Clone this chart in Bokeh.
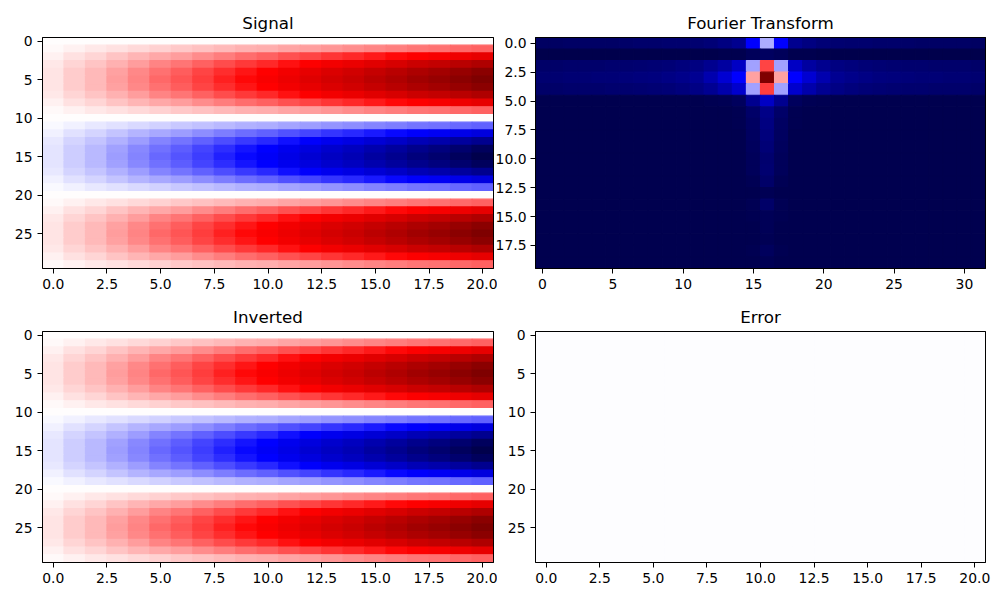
import numpy as np
from bokeh.plotting import figure
from bokeh.layouts import column, row
from bokeh.models import Range1d, FixedTicker, LinearColorMapper, ColumnDataSource, LinearAxis
from bokeh.transform import transform
from bokeh.embed import file_html
from bokeh.resources import INLINE

# ---------------- data ----------------
# Signal: value of each row (shape along the 30 rows)
signal_row_profile = [0.00, 0.31, 0.59, 0.81, 0.95, 1.00, 0.95, 0.81, 0.59, 0.31,
                      0.00, -0.31, -0.59, -0.81, -0.95, -1.00, -0.95, -0.81, -0.59, -0.31,
                      0.00, 0.31, 0.59, 0.81, 0.95, 1.00, 0.95, 0.81, 0.59, 0.31]
# Signal: amplitude of each of the 21 columns
signal_col_amp = [0.05, 0.10, 0.14, 0.19, 0.24, 0.29, 0.33, 0.38, 0.43, 0.48, 0.52,
                  0.57, 0.62, 0.67, 0.71, 0.76, 0.81, 0.86, 0.90, 0.95, 1.00]

# Fourier transform magnitude (0..1), per row, from the centre column 16 outwards
# (distance 0..16); the spectrum is symmetric around column 16.
ft_row00 = [0.42, 0.25, 0.096, 0.075, 0.061, 0.054, 0.050, 0.047, 0.045, 0.043, 0.041, 0.039, 0.038, 0.037, 0.036, 0.035, 0.034]
ft_row01 = [0.030, 0.020, 0.006, 0.004, 0.003, 0.002, 0.002, 0.001, 0.001, 0.0, 0.0, 0.0, 0.0, 0.0, 0.0, 0.0, 0.0]
ft_row02 = [0.68, 0.41, 0.17, 0.12, 0.095, 0.078, 0.068, 0.062, 0.057, 0.053, 0.050, 0.048, 0.046, 0.044, 0.043, 0.042, 0.041]
ft_row03 = [1.00, 0.59, 0.25, 0.19, 0.14, 0.10, 0.088, 0.080, 0.074, 0.069, 0.065, 0.062, 0.059, 0.057, 0.055, 0.054, 0.053]
ft_row04 = [0.69, 0.41, 0.18, 0.135, 0.10, 0.080, 0.069, 0.062, 0.057, 0.053, 0.050, 0.048, 0.046, 0.044, 0.043, 0.042, 0.041]
ft_row05 = [0.17, 0.095, 0.025, 0.012, 0.008, 0.006, 0.005, 0.004, 0.004, 0.004, 0.004, 0.004, 0.004, 0.004, 0.004, 0.004, 0.004]
ft_row06 = [0.085, 0.040, 0.010, 0.006, 0.005, 0.004, 0.004, 0.004, 0.004, 0.004, 0.004, 0.004, 0.004, 0.004, 0.004, 0.004, 0.004]
ft_row07 = [0.075, 0.033, 0.008, 0.005, 0.004, 0.004, 0.004, 0.004, 0.004, 0.004, 0.004, 0.004, 0.004, 0.004, 0.004, 0.004, 0.004]
ft_row08 = [0.068, 0.028, 0.007, 0.005, 0.004, 0.004, 0.004, 0.004, 0.004, 0.004, 0.004, 0.004, 0.004, 0.004, 0.004, 0.004, 0.004]
ft_row09 = [0.061, 0.025, 0.006, 0.004, 0.004, 0.004, 0.004, 0.004, 0.004, 0.004, 0.004, 0.004, 0.004, 0.004, 0.004, 0.004, 0.004]
ft_row10 = [0.047, 0.020, 0.006, 0.004, 0.004, 0.004, 0.004, 0.004, 0.004, 0.004, 0.004, 0.004, 0.004, 0.004, 0.004, 0.004, 0.004]
ft_row11 = [0.054, 0.020, 0.006, 0.004, 0.004, 0.004, 0.004, 0.004, 0.004, 0.004, 0.004, 0.004, 0.004, 0.004, 0.004, 0.004, 0.004]
ft_row12 = [0.040, 0.015, 0.005, 0.004, 0.004, 0.004, 0.004, 0.004, 0.004, 0.004, 0.004, 0.004, 0.004, 0.004, 0.004, 0.004, 0.004]
ft_row13 = [0.012, 0.006, 0.004, 0.004, 0.004, 0.004, 0.004, 0.004, 0.004, 0.004, 0.004, 0.004, 0.004, 0.004, 0.004, 0.004, 0.004]
ft_row14 = [0.040, 0.012, 0.005, 0.004, 0.004, 0.004, 0.004, 0.004, 0.004, 0.004, 0.004, 0.004, 0.004, 0.004, 0.004, 0.004, 0.004]
ft_row15 = [0.019, 0.008, 0.004, 0.004, 0.004, 0.004, 0.004, 0.004, 0.004, 0.004, 0.004, 0.004, 0.004, 0.004, 0.004, 0.004, 0.004]
ft_row16 = [0.019, 0.007, 0.004, 0.004, 0.004, 0.004, 0.004, 0.004, 0.004, 0.004, 0.004, 0.004, 0.004, 0.004, 0.004, 0.004, 0.004]
ft_row17 = [0.012, 0.005, 0.004, 0.004, 0.004, 0.004, 0.004, 0.004, 0.004, 0.004, 0.004, 0.004, 0.004, 0.004, 0.004, 0.004, 0.004]
ft_row18 = [0.026, 0.008, 0.004, 0.004, 0.004, 0.004, 0.004, 0.004, 0.004, 0.004, 0.004, 0.004, 0.004, 0.004, 0.004, 0.004, 0.004]
ft_row19 = [0.012, 0.005, 0.004, 0.004, 0.004, 0.004, 0.004, 0.004, 0.004, 0.004, 0.004, 0.004, 0.004, 0.004, 0.004, 0.004, 0.004]
ft_half_rows = [ft_row00, ft_row01, ft_row02, ft_row03, ft_row04, ft_row05, ft_row06, ft_row07,
                ft_row08, ft_row09, ft_row10, ft_row11, ft_row12, ft_row13, ft_row14, ft_row15,
                ft_row16, ft_row17, ft_row18, ft_row19]
ft_n_cols = 32
ft_centre_col = 16

# Error (signal - inverted), per row, almost zero everywhere
error_rows = [-0.004, -0.004, -0.004, -0.004, -0.004, -0.004, -0.004, -0.004, -0.004, -0.004,
              -0.004, -0.004, -0.004, -0.004, -0.004, -0.003, -0.003, -0.003, -0.003, -0.003,
              -0.003, -0.003, -0.003, -0.003, -0.003, -0.003, -0.003, -0.003, -0.003, -0.003]

# tick labels
sig_xticks = [0, 2.5, 5, 7.5, 10, 12.5, 15, 17.5, 20]
sig_xlabels = ["0.0", "2.5", "5.0", "7.5", "10.0", "12.5", "15.0", "17.5", "20.0"]
sig_yticks = [0, 5, 10, 15, 20, 25]
sig_ylabels = ["0", "5", "10", "15", "20", "25"]
ft_xticks = [0, 5, 10, 15, 20, 25, 30]
ft_xlabels = ["0", "5", "10", "15", "20", "25", "30"]
ft_yticks = [0, 2.5, 5, 7.5, 10, 12.5, 15, 17.5]
ft_ylabels = ["0.0", "2.5", "5.0", "7.5", "10.0", "12.5", "15.0", "17.5"]

# ---------------- build matrices ----------------
signal = np.outer(np.array(signal_row_profile), np.array(signal_col_amp))
inverted = signal.copy()
error = np.repeat(np.array(error_rows)[:, None], len(signal_col_amp), axis=1)
ft = np.array([[h[abs(c - ft_centre_col)] for c in range(ft_n_cols)] for h in ft_half_rows])


def seismic_palette(n=256):
    xs = np.linspace(0, 1, n)
    k = [0, 0.25, 0.5, 0.75, 1.0]
    r = np.interp(xs, k, [0, 0, 1, 1, 0.5])
    g = np.interp(xs, k, [0, 0, 1, 0, 0])
    b = np.interp(xs, k, [0.3, 1, 1, 0, 0])
    return ["#%02x%02x%02x" % (int(rr * 255), int(gg * 255), int(bb * 255)) for rr, gg, bb in zip(r, g, b)]


PAL = seismic_palette()
FONT = "DejaVu Sans"


def spine(p, side):
    ax = LinearAxis(ticker=FixedTicker(ticks=[]), axis_line_color="black", axis_line_width=1,
                    major_tick_line_color=None, minor_tick_line_color=None,
                    major_label_text_font_size="0px", major_label_standoff=0)
    p.add_layout(ax, side)


def panel(title, mat, low, high, xticks, xlabels, yticks, ylabels,
          bl, br, bt, bb, fw, fh, ystandoff=5, ytick=5):
    nr, nc = mat.shape
    rr, cc = np.meshgrid(np.arange(nr), np.arange(nc), indexing="ij")
    src = ColumnDataSource(dict(x=cc.ravel(), y=rr.ravel(), v=mat.ravel()))
    mapper = LinearColorMapper(palette=PAL, low=low, high=high)
    p = figure(frame_width=fw, frame_height=fh,
               x_range=Range1d(-0.5, nc - 0.5), y_range=Range1d(nr - 0.5, -0.5),
               output_backend="svg", toolbar_location=None, tools="",
               min_border_left=bl, min_border_right=br, min_border_top=bt, min_border_bottom=bb)
    p.rect(x="x", y="y", width=1, height=1, source=src,
           fill_color=transform("v", mapper), line_color=transform("v", mapper), line_width=1.2)
    p.grid.visible = False
    p.outline_line_color = "black"
    p.outline_line_width = 1
    p.background_fill_color = "white"
    p.border_fill_color = "white"
    p.title.text = title
    p.title.align = "center"
    p.title.text_font = FONT
    p.title.text_font_size = "16.7px"
    p.title.text_font_style = "normal"
    p.title.text_color = "black"
    p.title.standoff = 9
    for ax in (p.xaxis[0], p.yaxis[0]):
        ax.axis_line_color = "black"
        ax.axis_line_width = 1
        ax.major_tick_line_color = "black"
        ax.major_tick_in = 0
        ax.major_tick_out = 5
        ax.minor_tick_line_color = None
        ax.major_label_text_font = FONT
        ax.major_label_text_font_size = "13.9px"
        ax.major_label_text_color = "black"
        ax.major_label_standoff = 5
    p.yaxis[0].major_tick_out = ytick
    p.yaxis[0].major_label_standoff = ystandoff
    p.xaxis[0].ticker = FixedTicker(ticks=xticks)
    p.xaxis[0].major_label_overrides = {t: l for t, l in zip(xticks, xlabels)}
    p.yaxis[0].ticker = FixedTicker(ticks=yticks)
    p.yaxis[0].major_label_overrides = {t: l for t, l in zip(yticks, ylabels)}
    spine(p, "above")
    spine(p, "right")
    return p


p1 = panel("Signal", signal, -1, 1, sig_xticks, sig_xlabels, sig_yticks, sig_ylabels,
           42, 4, 37, 32, 451, 231)
p2 = panel("Fourier Transform", ft, 0, 1, ft_xticks, ft_xlabels, ft_yticks, ft_ylabels,
           43, 15, 37, 32, 450, 231, ystandoff=4, ytick=5)
p3 = panel("Inverted", inverted, -1, 1, sig_xticks, sig_xlabels, sig_yticks, sig_ylabels,
           42, 4, 30, 39, 451, 231)
p4 = panel("Error", error, -1, 1, sig_xticks, sig_xlabels, sig_yticks, sig_ylabels,
           43, 15, 30, 39, 450, 231)
for p in (p2, p4):
    p.border_fill_alpha = 0
    p.margin = (0, 0, 0, -5)

layout = column(row(p1, p2), row(p3, p4))
open("out.html", "w").write(file_html(layout, INLINE))
